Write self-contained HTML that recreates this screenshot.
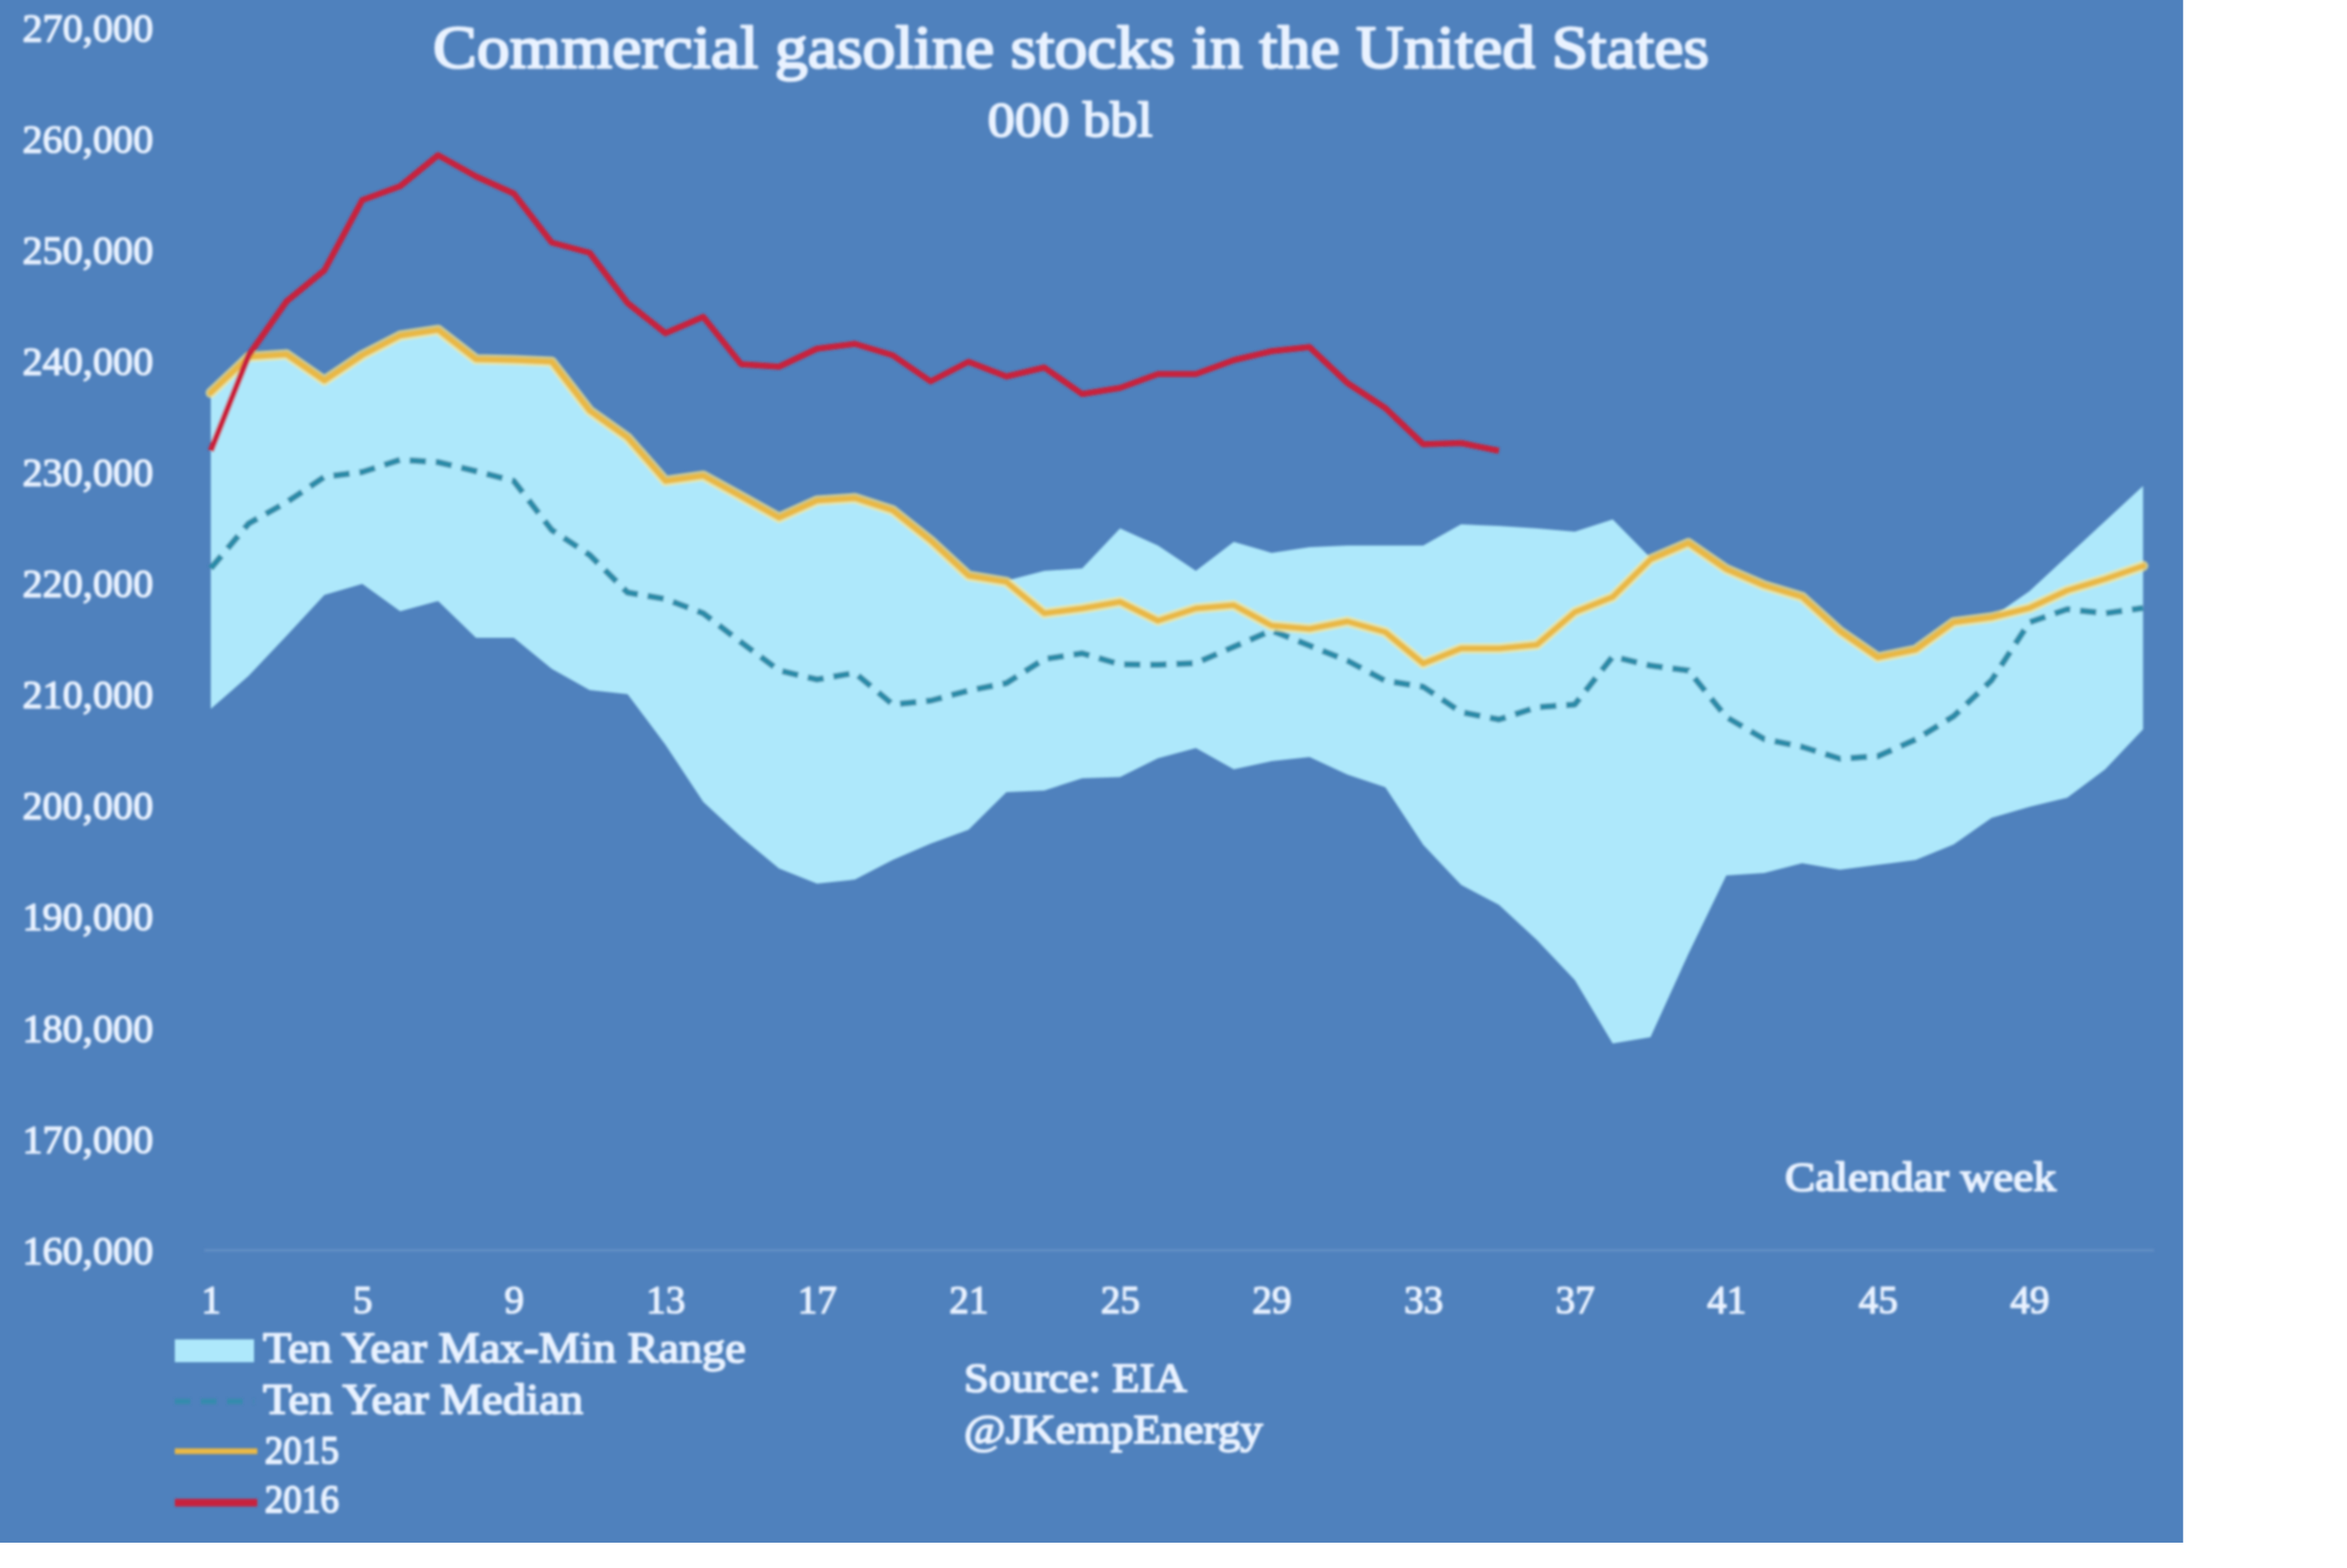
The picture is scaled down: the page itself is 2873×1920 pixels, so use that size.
<!DOCTYPE html>
<html><head><meta charset="utf-8"><title>Commercial gasoline stocks in the United States</title>
<style>
html,body{margin:0;padding:0;background:#fff;}
body{width:2873px;height:1920px;overflow:hidden;position:relative;}
svg{position:absolute;left:0;top:0;display:block;}
text{font-family:"Liberation Serif",serif;font-weight:normal;fill:#e9f2ff;stroke:#e9f2ff;stroke-width:1.6px;stroke-linejoin:round;}
.ax{font-size:48px;}
.title{font-size:73px;stroke-width:2.6px;}
.sub{font-size:62px;stroke-width:2.2px;}
.lg{font-size:52px;stroke-width:2px;}
.src{font-size:50px;stroke-width:2px;}
</style></head><body>
<svg width="2873" height="1920" viewBox="0 0 2873 1920">
<rect x="0" y="0" width="2672.4" height="1889" fill="#4f81bd"/>
<defs><filter id="bl" x="-2%" y="-2%" width="104%" height="104%"><feGaussianBlur stdDeviation="1.6"/></filter></defs>
<g filter="url(#bl)">
<rect x="250" y="1529" width="2387" height="4" fill="#5e8cc3"/>
<polygon points="258.0,481.0 304.4,437.0 350.8,434.0 397.1,466.0 443.5,435.0 489.9,411.0 536.3,404.0 582.7,440.0 629.0,441.0 675.4,443.0 721.8,503.0 768.2,536.0 814.6,589.0 860.9,582.5 907.3,608.0 953.7,634.0 1000.1,613.0 1046.5,610.0 1092.8,625.0 1139.2,662.0 1185.6,705.0 1232.0,711.0 1278.4,699.0 1324.7,696.0 1371.1,647.0 1417.5,668.0 1463.9,699.0 1510.3,663.5 1556.6,677.0 1603.0,670.0 1649.4,668.0 1695.8,668.0 1742.2,668.0 1788.5,642.0 1834.9,644.0 1881.3,647.0 1927.7,651.0 1974.1,636.0 2020.4,683.0 2066.8,665.0 2113.2,697.0 2159.6,717.0 2206.0,731.0 2252.3,773.0 2298.7,805.0 2345.1,795.6 2391.5,762.0 2437.9,756.0 2484.2,724.0 2530.6,681.0 2577.0,638.0 2623.4,595.0 2623.4,893.0 2577.0,942.0 2530.6,976.7 2484.2,988.0 2437.9,1001.6 2391.5,1034.0 2345.1,1053.0 2298.7,1059.0 2252.3,1065.0 2206.0,1057.0 2159.6,1069.0 2113.2,1072.0 2066.8,1168.0 2020.4,1270.0 1974.1,1277.7 1927.7,1200.0 1881.3,1151.0 1834.9,1108.0 1788.5,1083.6 1742.2,1034.5 1695.8,964.0 1649.4,948.6 1603.0,927.0 1556.6,932.0 1510.3,942.0 1463.9,916.0 1417.5,928.5 1371.1,951.5 1324.7,953.0 1278.4,968.0 1232.0,970.0 1185.6,1016.0 1139.2,1033.0 1092.8,1053.0 1046.5,1077.0 1000.1,1082.0 953.7,1063.5 907.3,1025.0 860.9,982.0 814.6,912.0 768.2,850.0 721.8,845.0 675.4,819.0 629.0,781.0 582.7,781.0 536.3,736.0 489.9,748.5 443.5,715.0 397.1,728.6 350.8,778.5 304.4,827.5 258.0,868.0" fill="#aee8fb"/>
<polyline points="258.0,696.0 304.4,641.0 350.8,615.0 397.1,584.0 443.5,578.0 489.9,563.0 536.3,566.0 582.7,577.0 629.0,589.0 675.4,649.0 721.8,679.5 768.2,725.5 814.6,733.5 860.9,751.0 907.3,786.5 953.7,821.0 1000.1,832.0 1046.5,824.0 1092.8,862.6 1139.2,858.0 1185.6,845.7 1232.0,836.5 1278.4,807.0 1324.7,800.0 1371.1,813.5 1417.5,814.0 1463.9,812.0 1510.3,792.0 1556.6,772.0 1603.0,790.6 1649.4,809.0 1695.8,833.6 1742.2,841.0 1788.5,872.0 1834.9,881.0 1881.3,866.0 1927.7,862.7 1974.1,804.0 2020.4,815.0 2066.8,821.0 2113.2,878.0 2159.6,905.0 2206.0,914.5 2252.3,929.0 2298.7,926.0 2345.1,905.5 2391.5,877.0 2437.9,833.0 2484.2,762.0 2530.6,746.0 2577.0,751.0 2623.4,744.5" fill="none" stroke="#2b8ba8" stroke-width="7.5" stroke-dasharray="20 12" stroke-linejoin="round"/>
<polyline points="258.0,481.0 304.4,437.0 350.8,434.0 397.1,466.0 443.5,435.0 489.9,411.0 536.3,404.0 582.7,440.0 629.0,441.0 675.4,443.0 721.8,503.0 768.2,536.0 814.6,589.0 860.9,582.5 907.3,608.0 953.7,634.0 1000.1,613.0 1046.5,610.0 1092.8,625.0 1139.2,662.0 1185.6,705.0 1232.0,712.6 1278.4,751.0 1324.7,745.0 1371.1,737.0 1417.5,760.0 1463.9,745.0 1510.3,741.0 1556.6,766.0 1603.0,770.0 1649.4,761.0 1695.8,774.0 1742.2,812.5 1788.5,794.0 1834.9,794.0 1881.3,789.5 1927.7,749.6 1974.1,731.0 2020.4,685.0 2066.8,665.0 2113.2,697.0 2159.6,717.0 2206.0,731.0 2252.3,773.0 2298.7,805.0 2345.1,795.6 2391.5,762.0 2437.9,756.0 2484.2,744.5 2530.6,723.0 2577.0,709.0 2623.4,693.0" fill="none" stroke="#f6e58a" stroke-width="13" stroke-linejoin="round" stroke-linecap="round" opacity="0.7"/>
<polyline points="258.0,481.0 304.4,437.0 350.8,434.0 397.1,466.0 443.5,435.0 489.9,411.0 536.3,404.0 582.7,440.0 629.0,441.0 675.4,443.0 721.8,503.0 768.2,536.0 814.6,589.0 860.9,582.5 907.3,608.0 953.7,634.0 1000.1,613.0 1046.5,610.0 1092.8,625.0 1139.2,662.0 1185.6,705.0 1232.0,712.6 1278.4,751.0 1324.7,745.0 1371.1,737.0 1417.5,760.0 1463.9,745.0 1510.3,741.0 1556.6,766.0 1603.0,770.0 1649.4,761.0 1695.8,774.0 1742.2,812.5 1788.5,794.0 1834.9,794.0 1881.3,789.5 1927.7,749.6 1974.1,731.0 2020.4,685.0 2066.8,665.0 2113.2,697.0 2159.6,717.0 2206.0,731.0 2252.3,773.0 2298.7,805.0 2345.1,795.6 2391.5,762.0 2437.9,756.0 2484.2,744.5 2530.6,723.0 2577.0,709.0 2623.4,693.0" fill="none" stroke="#e9b844" stroke-width="7" stroke-linejoin="round" stroke-linecap="round"/>
<polyline points="258.0,552.0 304.4,435.0 350.8,369.0 397.1,331.0 443.5,245.0 489.9,228.0 536.3,190.0 582.7,216.0 629.0,237.0 675.4,297.0 721.8,309.5 768.2,371.0 814.6,408.0 860.9,388.0 907.3,446.0 953.7,449.0 1000.1,427.0 1046.5,421.0 1092.8,435.0 1139.2,467.0 1185.6,443.0 1232.0,461.0 1278.4,450.0 1324.7,482.5 1371.1,475.0 1417.5,458.0 1463.9,458.0 1510.3,441.0 1556.6,430.0 1603.0,425.0 1649.4,469.0 1695.8,499.6 1742.2,544.0 1788.5,542.5 1834.9,552.0" fill="none" stroke="#c8203c" stroke-width="7.5" stroke-linejoin="round" stroke-linecap="butt"/>
<text x="187.5" y="51.0" text-anchor="end" class="ax" textLength="160" lengthAdjust="spacingAndGlyphs">270,000</text><text x="187.5" y="187.1" text-anchor="end" class="ax" textLength="160" lengthAdjust="spacingAndGlyphs">260,000</text><text x="187.5" y="323.1" text-anchor="end" class="ax" textLength="160" lengthAdjust="spacingAndGlyphs">250,000</text><text x="187.5" y="459.2" text-anchor="end" class="ax" textLength="160" lengthAdjust="spacingAndGlyphs">240,000</text><text x="187.5" y="595.2" text-anchor="end" class="ax" textLength="160" lengthAdjust="spacingAndGlyphs">230,000</text><text x="187.5" y="731.2" text-anchor="end" class="ax" textLength="160" lengthAdjust="spacingAndGlyphs">220,000</text><text x="187.5" y="867.3" text-anchor="end" class="ax" textLength="160" lengthAdjust="spacingAndGlyphs">210,000</text><text x="187.5" y="1003.4" text-anchor="end" class="ax" textLength="160" lengthAdjust="spacingAndGlyphs">200,000</text><text x="187.5" y="1139.4" text-anchor="end" class="ax" textLength="160" lengthAdjust="spacingAndGlyphs">190,000</text><text x="187.5" y="1275.5" text-anchor="end" class="ax" textLength="160" lengthAdjust="spacingAndGlyphs">180,000</text><text x="187.5" y="1411.5" text-anchor="end" class="ax" textLength="160" lengthAdjust="spacingAndGlyphs">170,000</text><text x="187.5" y="1547.6" text-anchor="end" class="ax" textLength="160" lengthAdjust="spacingAndGlyphs">160,000</text>
<text x="258.5" y="1608" text-anchor="middle" class="ax">1</text><text x="444.0" y="1608" text-anchor="middle" class="ax">5</text><text x="629.5" y="1608" text-anchor="middle" class="ax">9</text><text x="815.1" y="1608" text-anchor="middle" class="ax">13</text><text x="1000.6" y="1608" text-anchor="middle" class="ax">17</text><text x="1186.1" y="1608" text-anchor="middle" class="ax">21</text><text x="1371.6" y="1608" text-anchor="middle" class="ax">25</text><text x="1557.1" y="1608" text-anchor="middle" class="ax">29</text><text x="1742.7" y="1608" text-anchor="middle" class="ax">33</text><text x="1928.2" y="1608" text-anchor="middle" class="ax">37</text><text x="2113.7" y="1608" text-anchor="middle" class="ax">41</text><text x="2299.2" y="1608" text-anchor="middle" class="ax">45</text><text x="2484.7" y="1608" text-anchor="middle" class="ax">49</text>
<text x="1311" y="83" text-anchor="middle" class="title" textLength="1562" lengthAdjust="spacingAndGlyphs">Commercial gasoline stocks in the United States</text>
<text x="1310" y="167" text-anchor="middle" class="sub" textLength="202" lengthAdjust="spacingAndGlyphs">000 bbl</text>
<text x="2185" y="1458" class="src" textLength="332" lengthAdjust="spacingAndGlyphs">Calendar week</text>
<rect x="214" y="1640" width="97" height="28" fill="#aee8fb"/>
<line x1="214" y1="1716" x2="311" y2="1716" stroke="#2f8fa9" stroke-width="7" stroke-dasharray="19 13" opacity="0.75"/>
<line x1="214" y1="1777" x2="315" y2="1777" stroke="#e9b844" stroke-width="7"/>
<line x1="214" y1="1840" x2="315" y2="1840" stroke="#c8203c" stroke-width="9.5"/>
<text x="322" y="1668" class="lg" textLength="591" lengthAdjust="spacingAndGlyphs">Ten Year Max-Min Range</text>
<text x="322" y="1731" class="lg" textLength="392" lengthAdjust="spacingAndGlyphs">Ten Year Median</text>
<text x="324" y="1792" class="lg" style="font-size:48px" textLength="91" lengthAdjust="spacingAndGlyphs">2015</text>
<text x="324" y="1852" class="lg" style="font-size:48px" textLength="91" lengthAdjust="spacingAndGlyphs">2016</text>
<text x="1180" y="1704" class="src" textLength="273" lengthAdjust="spacingAndGlyphs">Source: EIA</text>
<text x="1180" y="1767" class="src" textLength="366" lengthAdjust="spacingAndGlyphs">@JKempEnergy</text>
</g>
</svg>
</body></html>
